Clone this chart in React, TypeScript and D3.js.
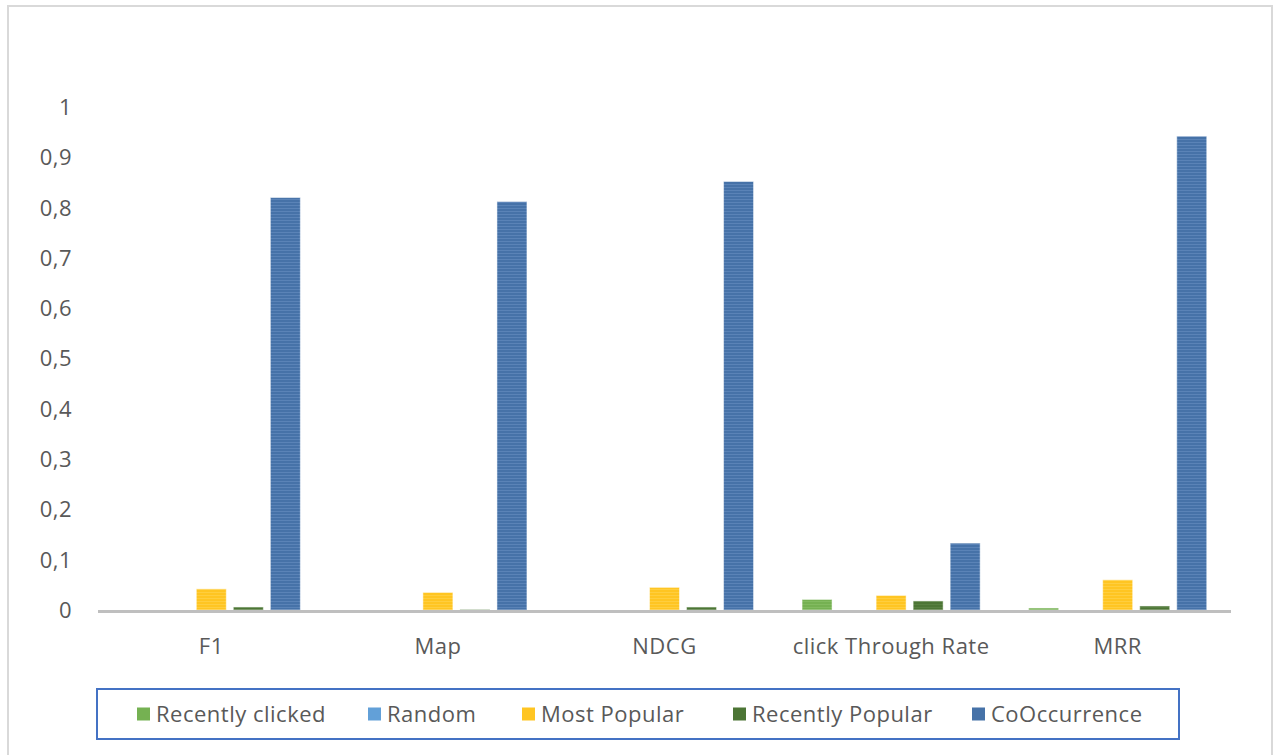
import React from "react";
import * as d3 from "d3";

// Metrics per evaluation measure for each recommender
const categories = ["F1", "Map", "NDCG", "click Through Rate", "MRR"];
const seriesNames = ["Recently clicked", "Random", "Most Popular", "Recently Popular", "CoOccurrence"];
const recentlyClicked = [0.0, 0.0, 0.0, 0.021, 0.004];
const random = [0.0, 0.0, 0.0, 0.0, 0.0];
const mostPopular = [0.042, 0.035, 0.045, 0.029, 0.06];
const recentlyPopular = [0.006, 0.001, 0.006, 0.018, 0.008];
const coOccurrence = [0.82, 0.812, 0.852, 0.133, 0.942];
const yTicks = [0, 0.1, 0.2, 0.3, 0.4, 0.5, 0.6, 0.7, 0.8, 0.9, 1];

const seriesValues = [recentlyClicked, random, mostPopular, recentlyPopular, coOccurrence];
const seriesColors = ["#75b152", "#62a0d8", "#ffc522", "#4c7535", "#4672a8"];
const stripeColors = ["#8cc26c", "#86b6e2", "#ffd555", "#62894a", "#6a92c2"];

const W = 1276;
const H = 755;
const plotLeft = 98;
const plotRight = 1231;
const yZero = 610;
const yOne = 107;
const font = "'Open Sans', 'Noto Sans', sans-serif";
const fontSize = 22;
const spacing = 0.5;
const textColor = "#595959";
const legendX = [137, 368, 522, 733, 972];

export default function App() {
  const x = d3.scaleBand<string>().domain(categories).range([plotLeft, plotRight]).padding(0);
  const inner = d3
    .scaleBand<string>()
    .domain(seriesNames)
    .range([0, x.bandwidth()])
    .paddingInner(0.19)
    .paddingOuter(0.655);
  const y = d3.scaleLinear().domain([0, 1]).range([yZero, yOne]);
  const fmt = (v: number) => d3.format(".1~f")(v).replace(".", ",");

  return (
    <div style={{ position: "absolute", left: 0, top: 0, background: "#fff" }}>
      <svg width={W} height={H} style={{ display: "block" }}>
        <defs>
          {seriesNames.map((s, i) => (
            <pattern key={s} id={`stripe${i}`} width={6} height={3} patternUnits="userSpaceOnUse">
              <rect width={6} height={3} fill={seriesColors[i]} />
              <rect y={1} width={6} height={1} fill={stripeColors[i]} opacity={0.55} />
            </pattern>
          ))}
        </defs>
        <rect x={0} y={0} width={W} height={H} fill="#fff" />
        {/* chart area border */}
        <rect x={8} y={6} width={1264} height={H + 10} fill="none" stroke="#d9d9d9" strokeWidth={2} />

        {/* y tick labels */}
        {yTicks.map((t) => (
          <text
            key={t}
            x={72}
            y={y(t)}
            dy="0.36em"
            textAnchor="end"
            fontFamily={font}
            fontSize={fontSize}
            letterSpacing={spacing}
            fill={textColor}
          >
            {fmt(t)}
          </text>
        ))}

        {/* bars */}
        {categories.map((c, ci) => (
          <g key={c} transform={`translate(${x(c)},0)`}>
            {seriesNames.map((s, si) => {
              const v = seriesValues[si][ci];
              if (v <= 0) return null;
              const top = y(v);
              return (
                <rect
                  key={s}
                  x={inner(s)}
                  y={top}
                  width={inner.bandwidth()}
                  height={yZero - top}
                  fill={`url(#stripe${si})`}
                  stroke="#ffffff"
                  strokeOpacity={0.5}
                  strokeWidth={1}
                />
              );
            })}
          </g>
        ))}

        {/* category axis */}
        <line x1={plotLeft} x2={plotRight} y1={yZero + 1.5} y2={yZero + 1.5} stroke="#bfbfbf" strokeWidth={3} />
        {categories.map((c) => (
          <text
            key={c}
            x={(x(c) ?? 0) + x.bandwidth() / 2}
            y={646}
            dy="0.36em"
            textAnchor="middle"
            fontFamily={font}
            fontSize={fontSize}
            letterSpacing={spacing}
            fill={textColor}
          >
            {c}
          </text>
        ))}

        {/* legend */}
        <rect x={97} y={689} width={1082} height={50} fill="#fff" stroke="#4472c4" strokeWidth={2} />
        {seriesNames.map((s, i) => (
          <g key={s} transform={`translate(${legendX[i]},714)`}>
            <rect x={0} y={-6.5} width={13} height={13} fill={seriesColors[i]} />
            <text
              x={19}
              y={0}
              dy="0.36em"
              fontFamily={font}
              fontSize={fontSize}
              letterSpacing={spacing}
              fill={textColor}
            >
              {s}
            </text>
          </g>
        ))}
      </svg>
    </div>
  );
}
